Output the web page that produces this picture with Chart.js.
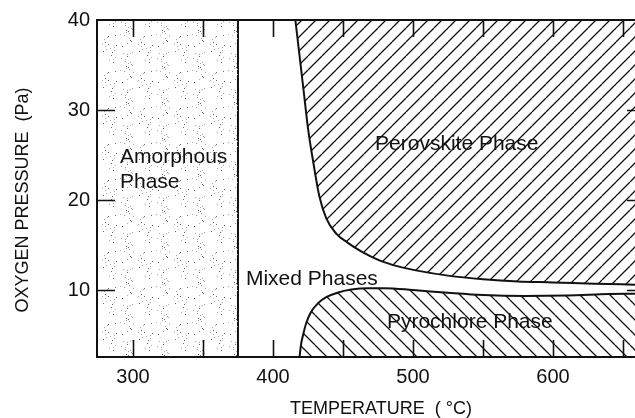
<!DOCTYPE html>
<html><head><meta charset="utf-8">
<script src="https://cdn.jsdelivr.net/npm/chart.js@4.4.1/dist/chart.umd.min.js"></script>
<style>html,body{margin:0;padding:0;background:#fff}#wrap{width:635px;height:418px;position:relative}</style>
</head><body><div id="wrap"><canvas id="c"></canvas></div>
<script>
// ---- data ----
const tempRange = [274.3, 658.6];          // °C
const pressRange = [2.56, 40];            // Pa
const xTickLabels = [300, 400, 500, 600];
const yTickLabels = [10, 20, 30, 40];
const xTickMarks = [300, 350, 400, 450, 500, 550, 600, 650];
const yTickMarks = [10, 20, 30];
const amorphousLimitT = 375;
const perovskiteT = [416, 419, 422, 425, 429, 433, 438, 445, 453, 463, 476, 490, 505, 525, 550, 575, 600, 630, 658.6];
const perovskiteP = [40, 36, 32, 28, 24, 20.5, 18, 16.3, 15.3, 14.3, 13.3, 12.6, 12.1, 11.6, 11.2, 10.95, 10.85, 10.7, 10.6];
const pyrochloreT = [419, 420, 421.5, 423.5, 427, 432, 438, 446, 456, 468, 480, 500, 525, 550, 580, 610, 640, 658.6];
const pyrochloreP = [2.56, 3.9, 5.0, 6.2, 7.5, 8.5, 9.2, 9.7, 10.05, 10.2, 10.2, 10.0, 9.7, 9.45, 9.35, 9.4, 9.55, 9.6];
const regionNames = ['Amorphous', 'Phase', 'Mixed Phases', 'Perovskite Phase', 'Pyrochlore Phase'];
const regionT = [290.7, 290.7, 380.7, 472.9, 481.4];
const regionP = [24.1, 21.3, 10.56, 25.6, 5.8];
const xTitle = 'TEMPERATURE  ( \u00B0C)';
const yTitle = 'OXYGEN PRESSURE  (Pa)';

// ---- patterns ----
function hatch(s, dir, lw) {
  const c = document.createElement('canvas'); c.width = s; c.height = s;
  const g = c.getContext('2d'); g.strokeStyle = '#111'; g.lineWidth = lw; g.beginPath();
  for (let k = -1; k <= 1; k++) {
    if (dir > 0) { g.moveTo(k * s, s); g.lineTo(k * s + s, 0); }
    else { g.moveTo(k * s, 0); g.lineTo(k * s + s, s); }
  }
  g.stroke();
  return g.createPattern(c, 'repeat');
}
function stipple() {
  const n = 36, c = document.createElement('canvas'); c.width = n; c.height = n;
  const g = c.getContext('2d');
  for (let i = 0; i < 44; i++) {
    const px = (i * 23 + ((i * i * 7) % 11)) % n;
    const py = (i * 31 + ((i * 13) % 17)) % n;
    g.fillStyle = i % 3 === 0 ? '#666' : '#aaa';
    g.fillRect(px, py, 1, 1);
  }
  return g.createPattern(c, 'repeat');
}

const pts = (xs, ys) => xs.map((v, i) => ({ x: v, y: ys[i] }));
const FONT = '"Liberation Sans", Arial, Helvetica, sans-serif';

const decor = {
  id: 'decor',
  afterDatasetsDraw(chart) {
    const { ctx, chartArea: a, scales: { x, y } } = chart;
    ctx.save();
    ctx.strokeStyle = '#111'; ctx.lineWidth = 2; ctx.beginPath();
    ctx.moveTo(a.right + 2, a.top); ctx.lineTo(a.left, a.top); ctx.lineTo(a.left, a.bottom); ctx.lineTo(a.right + 2, a.bottom);
    ctx.stroke();
    ctx.lineWidth = 1.6; ctx.beginPath();
    xTickMarks.forEach(v => { const p = Math.round(x.getPixelForValue(v)) + 0.5;
      ctx.moveTo(p, a.top); ctx.lineTo(p, a.top + 17); ctx.moveTo(p, a.bottom); ctx.lineTo(p, a.bottom - 17); });
    yTickMarks.forEach(v => { const p = Math.round(y.getPixelForValue(v)) + 0.5;
      ctx.moveTo(a.left, p); ctx.lineTo(a.left + 18, p); ctx.moveTo(a.right, p); ctx.lineTo(a.right - 8, p); });
    ctx.stroke();
    ctx.fillStyle = '#111'; ctx.font = '21px ' + FONT; ctx.textBaseline = 'alphabetic'; ctx.textAlign = 'left';
    regionNames.forEach((t, i) => ctx.fillText(t, x.getPixelForValue(regionT[i]), y.getPixelForValue(regionP[i])));
    ctx.font = '18px ' + FONT; ctx.textAlign = 'center'; ctx.textBaseline = 'middle';
    ctx.fillText(xTitle, 381, 409);
    ctx.translate(23, 200); ctx.rotate(-Math.PI / 2); ctx.fillText(yTitle, 0, 0);
    ctx.restore();
  }
};

new Chart(document.getElementById('c'), {
  type: 'line',
  data: {
    datasets: [
      { data: pts([tempRange[0], amorphousLimitT], [pressRange[1], pressRange[1]]), fill: 'start', backgroundColor: stipple(), borderWidth: 0, pointRadius: 0 },
      { data: pts([amorphousLimitT, amorphousLimitT], [pressRange[0], pressRange[1]]), fill: false, borderColor: '#111', borderWidth: 2, pointRadius: 0 },
      { data: pts(perovskiteT, perovskiteP), fill: 'end', backgroundColor: hatch(14, 1, 1.3), borderColor: '#111', borderWidth: 2, pointRadius: 0, cubicInterpolationMode: 'monotone' },
      { data: pts(pyrochloreT, pyrochloreP), fill: 'start', backgroundColor: hatch(15, -1, 1.3), borderColor: '#111', borderWidth: 2, pointRadius: 0, cubicInterpolationMode: 'monotone' }
    ]
  },
  options: {
    animation: false, responsive: true, maintainAspectRatio: false, devicePixelRatio: 1,
    layout: { padding: { top: 20, right: 0, left: 0, bottom: 0 } },
    plugins: { legend: { display: false }, tooltip: { enabled: false } },
    scales: {
      x: { type: 'linear', min: tempRange[0], max: tempRange[1],
        grid: { display: false, drawTicks: false }, border: { display: false },
        ticks: { color: '#111', font: { family: FONT, size: 20 }, padding: 8, maxRotation: 0, autoSkip: false },
        afterBuildTicks: s => { s.ticks = xTickLabels.map(v => ({ value: v })); },
        afterFit: s => { s.height = 61; } },
      y: { type: 'linear', min: pressRange[0], max: pressRange[1],
        grid: { display: false, drawTicks: false }, border: { display: false },
        ticks: { color: '#111', font: { family: FONT, size: 20 }, padding: 7, autoSkip: false },
        afterBuildTicks: s => { s.ticks = yTickLabels.map(v => ({ value: v })); },
        afterFit: s => { s.width = 97; } }
    }
  },
  plugins: [decor]
});
</script></body></html>
